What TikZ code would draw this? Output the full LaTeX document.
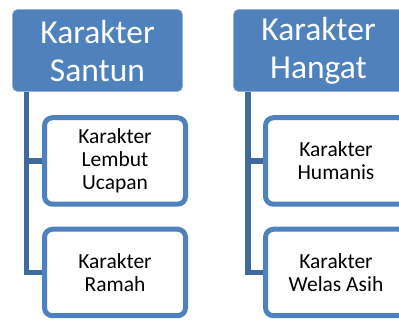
\documentclass[tikz,border=0pt]{standalone}
\usepackage{fontspec}
\setmainfont{Carlito}
\usepackage{tikz}
\usetikzlibrary{positioning,backgrounds}
\definecolor{hdrblue}{HTML}{4F81BD}
\definecolor{linkblue}{HTML}{3F6A9C}

\begin{document}
\begin{tikzpicture}[
  x=1pt, y=-1pt,
  header/.style={rectangle,rounded corners=5pt,fill=hdrblue,draw=hdrblue!60!white,line width=0.8pt,
    minimum width=170pt,minimum height=82pt,align=center,text=white,inner sep=2pt,
    font=\fontsize{33.5}{38}\selectfont},
  item/.style={rectangle,rounded corners=8pt,fill=white,draw=hdrblue,line width=5pt,
    minimum width=141pt,minimum height=86.5pt,align=center,text=black,inner sep=2pt,
    font=\fontsize{21.5}{23}\selectfont},
  link/.style={draw=linkblue,line width=5.5pt},
]
\useasboundingbox (0,0) rectangle (399,320);

% left column
\node[header] (hdrA) at (97.5,50.5) {Karakter\\Santun};
\node[item] (itemA1) at (115,161) {Karakter\\Lembut\\Ucapan};
\node[item] (itemA2) at (115,272.5) {Karakter\\Ramah};
\coordinate (trunkA) at ([xshift=14.5pt]hdrA.south west);

% right column
\node[header] (hdrB) at (318.5,50.5) {Karakter\\Hangat};
\node[item] (itemB1) at (336,161) {Karakter\\Humanis};
\node[item] (itemB2) at (336,272.5) {Karakter\\Welas Asih};
\coordinate (trunkB) at ([xshift=15pt]hdrB.south west);

\begin{scope}[on background layer]
  \draw[link] (trunkA) |- (itemA2.west);
  \draw[link] (trunkA |- itemA1.west) -- (itemA1.west);
  \draw[link] (trunkB) |- (itemB2.west);
  \draw[link] (trunkB |- itemB1.west) -- (itemB1.west);
\end{scope}
\end{tikzpicture}
\end{document}
